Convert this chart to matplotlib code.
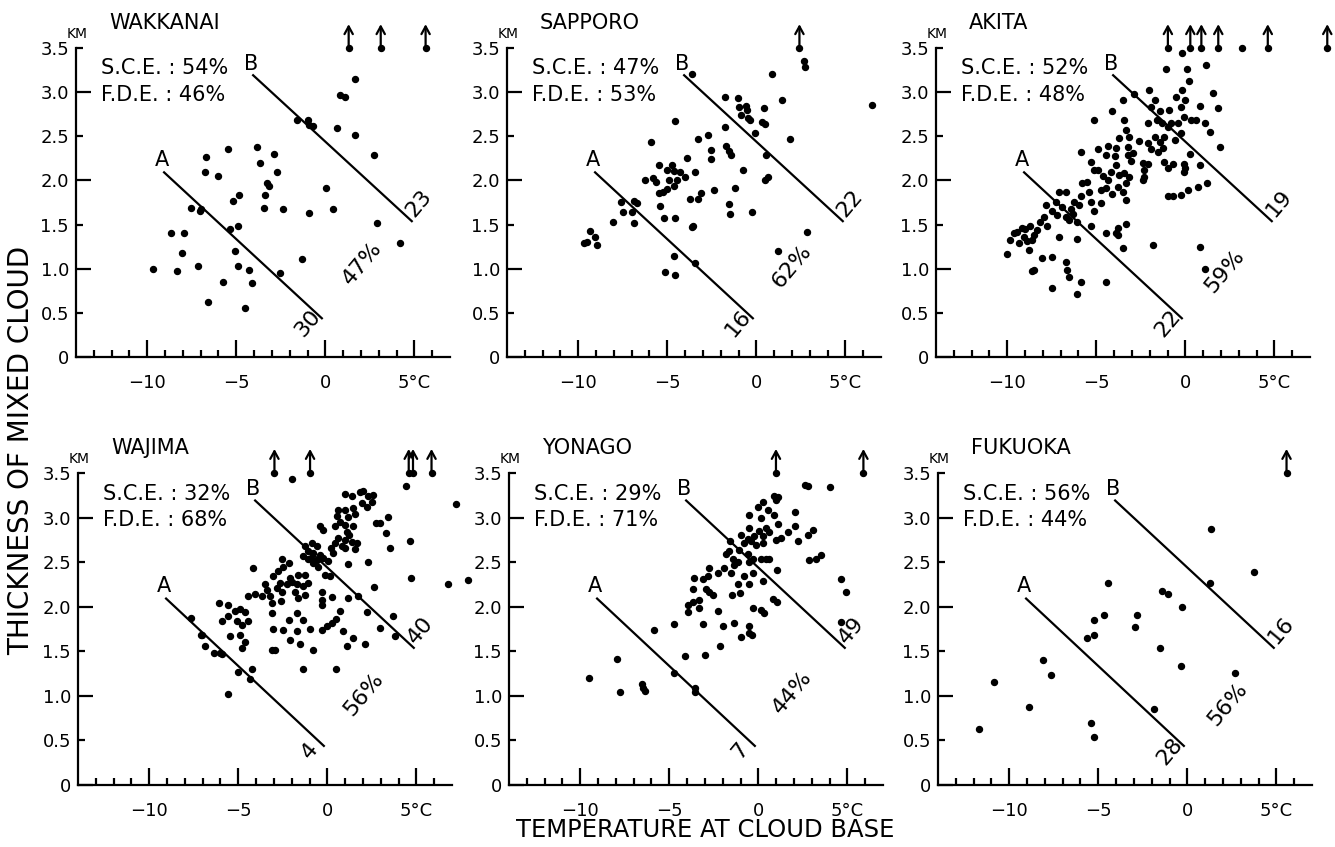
import matplotlib
matplotlib.use("Agg")
import matplotlib.pyplot as plt
import numpy as np

plt.rcParams['font.family'] = ['DejaVu Sans']

# ---------------- data ----------------
stations = ["WAKKANAI", "SAPPORO", "AKITA", "WAJIMA", "YONAGO", "FUKUOKA"]
sce = [54, 47, 52, 32, 29, 56]
fde = [46, 53, 48, 68, 71, 44]
count_a = [30, 16, 22, 4, 7, 28]
count_b = [23, 22, 19, 40, 49, 16]
pct_between = [47, 62, 59, 56, 44, 56]
pct_x = [2.06, 2.0, 2.22, 2.02, 1.93, 2.28]
pct_y = [1.06, 1.03, 0.97, 1.02, 1.04, 0.91]

# reference lines A and B (temperature, thickness end points)
line_a_t = [-9.1, -0.15]
line_a_h = [2.1, 0.43]
line_b_t = [-4.1, 4.9]
line_b_h = [3.2, 1.53]

x_major = [-10, -5, 0, 5]
x_major_labels = ["\u221210", "\u22125", "0", "5\u00b0C"]
y_major = [0, 1, 2, 3]
y_major_labels = ["0", "1.0", "2.0", "3.0"]
y_minor = [0.5, 1.5, 2.5, 3.5]
y_minor_labels = ["0.5", "1.5", "2.5", "3.5"]

# observations (temperature at cloud base [deg C], thickness [km])
wakkanai = [(-9.65, 1.00), (-8.69, 1.41), (-7.94, 1.41), (-8.07, 1.18), (-8.35, 0.97),
            (-7.57, 1.69), (-7.15, 1.03), (-7.06, 1.65), (-6.98, 1.68), (-6.70, 2.26),
            (-6.74, 2.09), (-6.59, 0.62), (-6.0, 2.05), (-5.72, 0.85), (-5.48, 2.36),
            (-5.35, 1.45), (-5.17, 1.77), (-5.07, 1.20), (-4.89, 1.48), (-4.83, 1.84),
            (-4.93, 1.03), (-4.30, 0.99), (-4.52, 0.56), (-4.09, 0.84), (-3.83, 2.38),
            (-3.67, 2.20), (-3.41, 1.84), (-3.44, 1.69), (-3.26, 1.97), (-3.19, 1.94),
            (-2.89, 2.30), (-2.72, 2.09), (-2.52, 0.95), (-2.37, 1.68), (-1.61, 2.69),
            (-1.33, 1.11), (-0.96, 2.68), (-0.91, 2.63), (-0.67, 2.62), (-0.94, 1.63),
            (0.02, 1.91), (0.41, 1.68), (0.67, 2.59), (0.80, 2.97), (1.13, 2.94),
            (1.65, 3.15), (1.65, 2.52), (2.74, 2.29), (2.89, 1.52), (4.19, 1.29)]
wakkanai_up = [1.31, 3.11, 5.63]

sapporo = [(-9.66, 1.29), (-9.53, 1.30), (-9.34, 1.43), (-9.06, 1.36), (-8.97, 1.27),
           (-8.03, 1.53), (-7.62, 1.75), (-7.50, 1.64), (-7.00, 1.64), (-6.87, 1.77),
           (-6.72, 1.74), (-6.87, 1.52), (-6.25, 2.00), (-5.91, 2.44), (-5.78, 2.03),
           (-5.63, 1.98), (-5.44, 2.17), (-5.44, 1.86), (-5.40, 1.71), (-5.22, 1.87),
           (-5.18, 1.58), (-5.03, 2.12), (-4.99, 1.90), (-4.90, 2.01), (-4.75, 2.18),
           (-4.65, 1.94), (-4.56, 2.67), (-4.60, 2.11), (-4.56, 1.58), (-5.12, 0.96),
           (-4.56, 0.93), (-4.65, 1.14), (-4.47, 2.01), (-4.28, 2.09), (-4.03, 2.04),
           (-3.90, 2.25), (-3.75, 1.79), (-3.62, 1.47), (-3.53, 1.48), (-3.43, 2.09),
           (-3.47, 1.06), (-3.30, 1.79), (-3.25, 2.47), (-3.10, 1.86), (-2.72, 2.51),
           (-2.55, 2.34), (-2.53, 2.24), (-2.35, 1.89), (-1.74, 2.95), (-1.78, 2.61),
           (-1.69, 2.39), (-1.56, 1.73), (-1.50, 1.62), (-1.52, 2.33), (-1.43, 2.29),
           (-1.18, 1.91), (-1.05, 2.93), (-1.00, 2.83), (-0.84, 2.74), (-0.75, 2.12),
           (-0.56, 2.84), (-0.53, 2.80), (-0.47, 2.71), (-0.34, 2.68), (-0.24, 1.64),
           (-0.09, 2.54), (0.32, 2.66), (0.47, 2.64), (0.45, 2.82), (0.54, 2.29),
           (0.51, 2.00), (0.64, 2.04), (0.88, 3.21), (1.20, 1.20), (1.44, 2.91),
           (1.88, 2.47), (2.66, 3.35), (2.76, 3.28), (2.85, 1.42), (6.51, 2.86),
           (-3.62, 3.20)]
sapporo_up = [2.42]

akita = [(-0.19, 3.44), (-1.07, 3.26), (0.11, 3.26), (1.15, 3.31), (0.19, 3.13),
         (-2.02, 3.02), (-2.86, 2.98), (-0.19, 3.02), (1.53, 2.99), (-3.52, 2.91),
         (-1.73, 2.91), (-0.51, 2.94), (-0.04, 2.91), (0.81, 2.84), (1.85, 2.82),
         (-5.12, 2.69), (-4.09, 2.79), (-3.47, 2.68), (-1.92, 2.83), (-1.45, 2.79),
         (-0.94, 2.80), (-0.26, 2.83), (-2.11, 2.65), (-1.60, 2.69), (-1.32, 2.65),
         (-0.79, 2.65), (-0.41, 2.65), (-0.08, 2.72), (0.34, 2.68), (0.62, 2.68),
         (1.09, 2.65), (1.37, 2.55), (-0.26, 2.54), (-3.33, 2.57), (-3.71, 2.48),
         (-3.15, 2.49), (-2.11, 2.42), (-1.69, 2.49), (-1.45, 2.44), (-1.17, 2.49),
         (-0.56, 2.46), (1.94, 2.38), (-5.88, 2.32), (-4.90, 2.36), (-4.37, 2.39),
         (-3.90, 2.37), (-3.24, 2.38), (-2.96, 2.31), (-1.92, 2.36), (-1.54, 2.32),
         (-1.26, 2.37), (-3.24, 2.29), (-5.31, 2.21), (-4.46, 2.29), (-3.95, 2.28),
         (-3.90, 2.17), (-3.05, 2.22), (-2.39, 2.20), (-2.11, 2.19), (-1.17, 2.21),
         (-0.70, 2.19), (-0.08, 2.19), (0.24, 2.30), (0.81, 2.17), (-5.12, 2.12),
         (-4.93, 2.12), (-4.18, 2.10), (-3.71, 2.06), (-3.43, 2.08), (-3.15, 2.04),
         (-2.30, 2.12), (-2.30, 2.04), (-0.04, 2.14), (-5.78, 1.97), (-5.50, 1.98),
         (-4.37, 2.00), (-3.33, 1.97), (-3.80, 1.93), (-2.39, 2.01), (-5.40, 1.87),
         (-4.75, 1.89), (-4.46, 1.91), (-4.09, 1.85), (-3.52, 1.87), (-3.33, 1.78),
         (-5.88, 1.82), (-6.25, 1.76), (-7.10, 1.87), (-6.72, 1.87), (-7.85, 1.72),
         (-7.29, 1.76), (-6.91, 1.70), (-6.44, 1.68), (-5.97, 1.72), (-5.31, 1.76),
         (-4.75, 1.74), (-5.12, 1.65), (-7.48, 1.65), (-7.95, 1.59), (-7.19, 1.61),
         (-6.72, 1.59), (-8.14, 1.53), (-7.76, 1.48), (-8.70, 1.48), (-8.32, 1.44),
         (-9.17, 1.46), (-9.45, 1.42), (-9.08, 1.36), (-8.51, 1.38), (-9.83, 1.32),
         (-9.36, 1.29), (-8.89, 1.31), (-8.80, 1.21), (-10.02, 1.17), (-6.53, 1.55),
         (-6.06, 1.53), (-5.31, 1.48), (-4.46, 1.40), (-3.90, 1.40), (-3.33, 1.51),
         (-3.80, 1.46), (-3.80, 1.38), (-7.10, 1.36), (-6.06, 1.34), (-3.52, 1.23),
         (-1.83, 1.27), (0.81, 1.25), (-8.04, 1.12), (-7.48, 1.13), (-6.72, 1.08),
         (-8.51, 0.98), (-8.61, 0.97), (-6.63, 0.98), (-6.53, 0.91), (-4.46, 0.85),
         (-5.87, 0.85), (-7.48, 0.78), (-6.06, 0.71), (1.09, 1.00), (-0.98, 1.82),
         (-0.70, 1.82), (-0.23, 1.83), (0.15, 1.89), (0.72, 1.93), (1.19, 1.97),
         (-0.98, 2.14), (-0.08, 2.10), (3.20, 3.50), (-9.6, 1.40), (-9.0, 1.45),
         (-8.6, 1.33), (-6.3, 1.62), (-4.6, 2.05), (-2.6, 2.45), (-1.0, 2.60)]
akita_up = [-0.98, 0.28, 0.90, 1.85, 4.63, 7.97]

wajima = [(-1.96, 3.43), (4.44, 3.35), (0.99, 3.26), (1.36, 3.24), (1.83, 3.29),
          (2.02, 3.30), (2.30, 3.24), (2.58, 3.25), (2.48, 3.18), (2.20, 3.12),
          (1.46, 3.11), (0.99, 3.09), (0.62, 3.09), (0.52, 3.02), (1.18, 3.01),
          (1.55, 3.04), (1.92, 3.16), (3.38, 3.01), (2.76, 2.94), (2.95, 2.94),
          (0.99, 2.92), (1.46, 2.90), (0.43, 2.90), (-0.41, 2.90), (-0.22, 2.86),
          (1.08, 2.84), (3.32, 2.83), (4.63, 2.74), (0.62, 2.77), (0.99, 2.75),
          (1.36, 2.73), (0.43, 2.71), (0.80, 2.68), (1.64, 2.71), (1.55, 2.65),
          (0.99, 2.66), (3.51, 2.66), (0.34, 2.60), (-1.25, 2.68), (-0.88, 2.71),
          (-0.60, 2.68), (-1.06, 2.62), (-0.78, 2.60), (-0.41, 2.58), (-0.22, 2.55),
          (-1.34, 2.57), (-1.06, 2.53), (-0.78, 2.49), (-0.50, 2.45), (0.06, 2.51),
          (-2.56, 2.53), (-2.18, 2.49), (-2.47, 2.45), (-4.15, 2.43), (1.18, 2.48),
          (2.26, 2.50), (4.72, 2.32), (-0.13, 2.36), (0.15, 2.34), (-1.62, 2.36),
          (-1.25, 2.36), (-2.09, 2.32), (-2.75, 2.40), (-3.03, 2.34), (-2.66, 2.27),
          (-2.28, 2.25), (-2.84, 2.21), (-1.72, 2.25), (-1.06, 2.27), (-1.34, 2.23),
          (-3.49, 2.25), (-3.40, 2.19), (-3.68, 2.12), (-4.05, 2.14), (-4.43, 2.12),
          (-3.21, 2.12), (-2.56, 2.17), (-1.81, 2.16), (-1.62, 2.10), (-1.25, 2.13),
          (-0.32, 2.16), (-0.32, 2.08), (-0.32, 2.02), (0.24, 2.11), (1.14, 2.10),
          (1.70, 2.12), (2.63, 2.22), (-3.12, 2.04), (-2.60, 2.06), (-6.11, 2.04),
          (-5.55, 2.02), (-5.17, 1.95), (-4.89, 1.97), (-4.61, 1.94), (-5.92, 1.84),
          (-5.55, 1.90), (-5.08, 1.84), (-4.80, 1.80), (-4.43, 1.84), (-3.12, 1.93),
          (-1.72, 1.93), (-2.18, 1.85), (-1.34, 1.85), (0.71, 1.95), (2.20, 1.94),
          (3.69, 1.90), (-3.03, 1.75), (-2.47, 1.74), (-1.72, 1.73), (-0.97, 1.75),
          (-0.32, 1.74), (-0.04, 1.78), (0.24, 1.82), (0.47, 1.86), (0.90, 1.73),
          (1.46, 1.65), (2.95, 1.76), (3.79, 1.67), (-5.45, 1.67), (-4.89, 1.68),
          (-4.61, 1.60), (-4.80, 1.54), (-2.09, 1.63), (-1.53, 1.58), (-3.12, 1.51),
          (-2.93, 1.52), (-0.78, 1.52), (1.08, 1.56), (2.11, 1.58), (-7.04, 1.68),
          (-6.86, 1.56), (-6.39, 1.48), (-5.92, 1.47), (-5.02, 1.27), (-4.24, 1.30),
          (-4.33, 1.19), (-5.55, 1.02), (-1.34, 1.30), (0.47, 1.30), (-7.64, 1.87),
          (-7.08, 1.68), (-6.01, 1.48), (-0.9, 2.55), (-0.6, 2.52), (0.7, 2.95),
          (1.2, 2.80), (0.2, 2.66), (-2.0, 2.28), (6.8, 2.26), (7.9, 2.30),
          (7.2, 3.15)]
wajima_up = [-2.97, -0.97, 4.57, 4.81, 5.85]

yonago = [(2.62, 3.36), (2.77, 3.35), (4.04, 3.34), (0.90, 3.24), (1.09, 3.23),
          (0.99, 3.20), (0.24, 3.18), (-0.04, 3.12), (0.52, 3.09), (2.08, 3.06),
          (-0.51, 3.03), (0.90, 3.03), (0.15, 3.00), (1.09, 2.93), (2.04, 2.91),
          (3.05, 2.86), (-0.51, 2.88), (0.06, 2.85), (0.43, 2.88), (0.62, 2.84),
          (1.65, 2.84), (2.77, 2.81), (-0.97, 2.80), (-0.60, 2.76), (-0.41, 2.74),
          (-0.22, 2.79), (0.24, 2.79), (0.99, 2.75), (1.27, 2.77), (2.21, 2.74),
          (-1.57, 2.74), (-0.79, 2.71), (-0.13, 2.69), (0.24, 2.71), (-1.63, 2.62),
          (-1.10, 2.64), (-1.82, 2.59), (-0.60, 2.59), (3.52, 2.58), (3.24, 2.54),
          (2.86, 2.52), (-1.44, 2.54), (-1.16, 2.50), (-1.35, 2.47), (-0.51, 2.50),
          (-0.32, 2.54), (0.15, 2.53), (0.43, 2.53), (0.62, 2.53), (-1.91, 2.43),
          (-2.75, 2.43), (-2.28, 2.38), (-1.54, 2.38), (1.03, 2.41), (-2.85, 2.35),
          (-3.60, 2.32), (-3.13, 2.31), (-0.79, 2.34), (-0.32, 2.38), (-1.12, 2.26),
          (-0.51, 2.25), (0.28, 2.29), (-3.69, 2.20), (-2.94, 2.20), (-2.75, 2.17),
          (-2.57, 2.13), (-1.48, 2.13), (-1.01, 2.15), (0.81, 2.09), (1.03, 2.05),
          (-3.31, 2.07), (-3.69, 2.05), (-3.97, 2.02), (-3.93, 1.94), (-3.31, 1.98),
          (-2.28, 1.95), (-0.32, 1.99), (0.15, 1.96), (0.34, 1.93), (4.64, 2.31),
          (4.93, 2.17), (-4.72, 1.81), (-3.13, 1.81), (-1.97, 1.78), (-1.35, 1.82),
          (-0.54, 1.78), (-0.51, 1.71), (-0.97, 1.66), (-0.36, 1.68), (4.64, 1.83),
          (-2.13, 1.56), (-4.10, 1.45), (-2.98, 1.46), (-9.49, 1.20), (-7.94, 1.41),
          (-7.77, 1.04), (-6.55, 1.13), (-6.46, 1.09), (-6.35, 1.06), (-5.88, 1.74),
          (-4.76, 1.26), (-3.54, 1.09), (-3.54, 1.04)]
yonago_up = [0.99, 5.90]

fukuoka = [(-11.70, 0.63), (-10.83, 1.15), (-8.87, 0.87), (-8.13, 1.40), (-7.63, 1.23),
           (-5.65, 1.65), (-5.26, 1.85), (-5.22, 1.68), (-5.41, 0.70), (-5.26, 0.54),
           (-4.70, 1.91), (-4.44, 2.27), (-2.94, 1.77), (-2.81, 1.91), (-1.85, 0.85),
           (-1.52, 1.54), (-1.43, 2.18), (-1.09, 2.14), (-0.37, 1.33), (-0.31, 2.00),
           (1.26, 2.27), (1.35, 2.87), (2.65, 1.26), (3.76, 2.39)]
fukuoka_up = [5.57]

all_points = [wakkanai, sapporo, akita, wajima, yonago, fukuoka]
all_up = [wakkanai_up, sapporo_up, akita_up, wajima_up, yonago_up, fukuoka_up]

# ---------------- layout ----------------
W, H = 1335, 847
fig = plt.figure(figsize=(W / 100, H / 100), dpi=100)

ax_lefts_px = [76, 507, 936, 78, 509, 938]
ax_bottoms_px = [357, 357, 357, 785, 785, 785]
ax_tops_px = [48, 48, 48, 473, 473, 473]
ax_width_px = 374

lw = 1.6
fs_tick = 13
fs_text = 15

for i in range(6):
    l = ax_lefts_px[i] / W
    b = 1 - ax_bottoms_px[i] / H
    h = (ax_bottoms_px[i] - ax_tops_px[i]) / H
    ax = fig.add_axes([l, b, ax_width_px / W, h])
    ax.set_xlim(-14, 7)
    ax.set_ylim(0, 3.5)
    for s in ("top", "right"):
        ax.spines[s].set_visible(False)
    for s in ("left", "bottom"):
        ax.spines[s].set_linewidth(lw)

    ax.set_xticks(x_major, labels=x_major_labels)
    ax.set_xticks([v for v in range(-13, 7) if v not in x_major], minor=True)
    ax.set_yticks(y_major, labels=y_major_labels)
    ax.set_yticks(y_minor, labels=y_minor_labels, minor=True)
    ax.tick_params(axis="x", which="major", direction="in", length=12, width=lw,
                   labelsize=fs_tick, pad=12)
    ax.tick_params(axis="x", which="minor", direction="in", length=5, width=lw)
    ax.tick_params(axis="y", which="major", direction="in", length=11, width=lw,
                   labelsize=fs_tick, pad=5)
    ax.tick_params(axis="y", which="minor", direction="in", length=5, width=lw,
                   labelsize=fs_tick, pad=5)

    pts = np.array(all_points[i])
    ax.plot(pts[:, 0], pts[:, 1], "o", color="black", markersize=4.3,
            linestyle="none", clip_on=False)

    for xu in all_up[i]:
        ax.plot([xu], [3.5], "o", color="black", markersize=4.3, clip_on=False)
        ax.annotate("", xy=(xu, 3.77), xytext=(xu, 3.5),
                    arrowprops=dict(arrowstyle="->,head_length=0.55,head_width=0.3",
                                    lw=1.6, color="black", shrinkA=0, shrinkB=0),
                    annotation_clip=False)

    ax.plot(line_a_t, line_a_h, color="black", lw=lw, solid_capstyle="butt")
    ax.plot(line_b_t, line_b_h, color="black", lw=lw, solid_capstyle="butt")
    ax.text(-9.15, 2.23, "A", fontsize=fs_text, ha="center", va="center")
    ax.text(-4.15, 3.32, "B", fontsize=fs_text, ha="center", va="center")
    ax.text(-1.0, 0.38, str(count_a[i]), fontsize=16, rotation=50,
            ha="center", va="center", rotation_mode="anchor")
    ax.text(5.25, 1.74, str(count_b[i]), fontsize=16, rotation=50,
            ha="center", va="center", rotation_mode="anchor")
    ax.text(pct_x[i], pct_y[i], f"{pct_between[i]}%", fontsize=16, rotation=50,
            ha="center", va="center", rotation_mode="anchor")

    ax.text(-12.6, 3.27, f"S.C.E. : {sce[i]}%", fontsize=fs_text, ha="left", va="center")
    ax.text(-12.6, 2.97, f"F.D.E. : {fde[i]}%", fontsize=fs_text, ha="left", va="center")
    ax.text(-12.15, 3.78, stations[i], fontsize=fs_text, ha="left", va="center",
            clip_on=False)
    ax.text(-13.95, 3.66, "KM", fontsize=10, ha="center", va="center", clip_on=False)

fig.text(21 / W, 1 - 450 / H, "THICKNESS OF MIXED CLOUD", rotation=90,
         fontsize=20, ha="center", va="center")
fig.text(705 / W, 1 - 830 / H, "TEMPERATURE AT CLOUD BASE",
         fontsize=17.5, ha="center", va="center")

fig.savefig("out.png", dpi=100)
